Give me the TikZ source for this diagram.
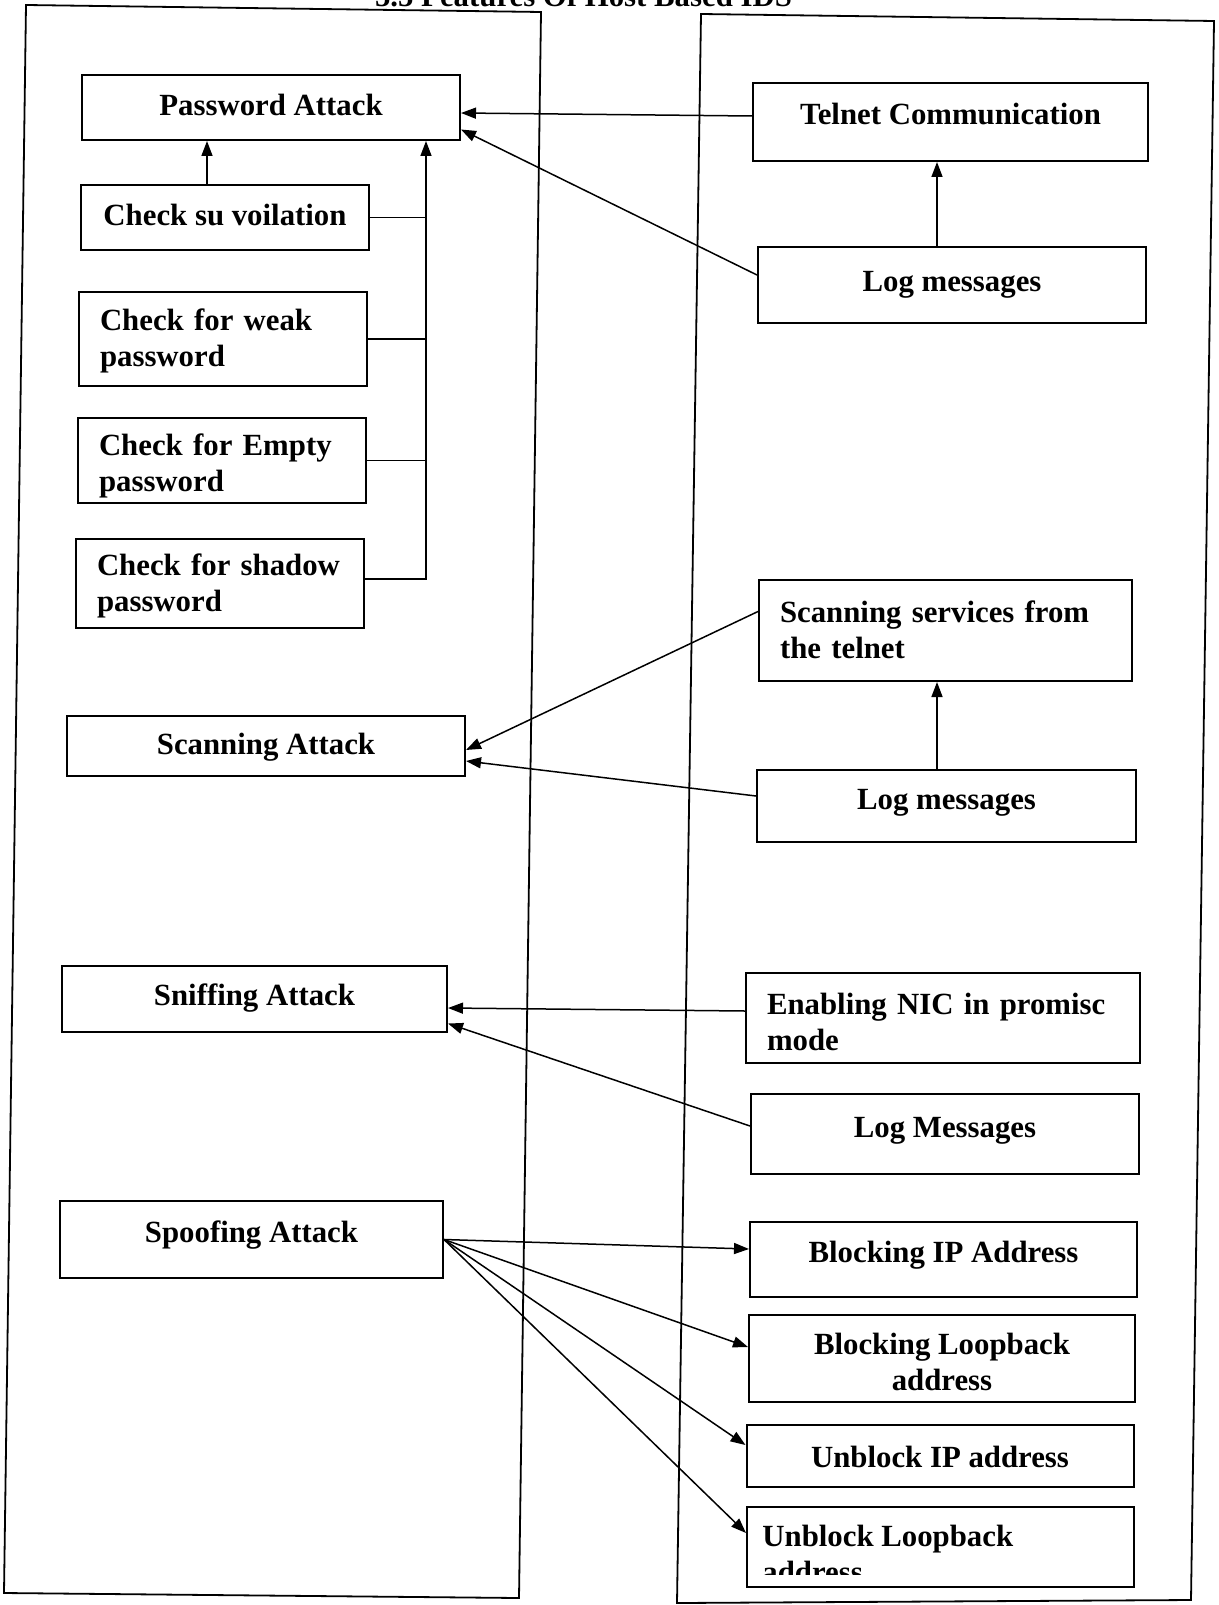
\documentclass[tikz,border=0pt]{standalone}
\usepackage{fontspec}
\setmainfont{Liberation Serif}
\usetikzlibrary{calc,arrows.meta}
\begin{document}
\begin{tikzpicture}[x=0.5pt,y=-0.5pt,
  txt/.style={font=\bfseries\fontsize{15.4}{18}\selectfont},
  box/.style={draw, line width=1pt, txt, inner sep=0pt, align=center, text height=11pt, text depth=3.5pt},
  lbox/.style={draw, line width=1pt, txt, inner ysep=0pt, inner xsep=10.5pt, align=left},
  cbox/.style={draw, line width=1pt, txt, inner sep=0pt, align=center},
  panel/.style={line width=0.9pt},
  arr/.style={line width=0.75pt, -{Triangle[length=7.5pt,width=5.5pt]}},
  link/.style={line width=0.75pt}]
\useasboundingbox (0,0) rectangle (1219,1605);

% heading
\node[txt, anchor=base] (title) at (583.5,6.5) {5.5 Features Of Host Based IDS};

% the two column frames
\draw[panel] (26,5) -- (541,12) -- (519,1598) -- (4,1593) -- cycle;
\draw[panel] (701,14) -- (1214,21) -- (1191,1600) -- (677,1603) -- cycle;

% attacks (left column)
\node[box, minimum width=189pt, minimum height=32.5pt, text depth=3pt] (pw) at (271,107.5) {Password Attack};
\node[box, minimum width=144pt, minimum height=32.5pt, text depth=3.2pt] (su) at (225,217.5) {Check su voilation};
\node[lbox, text width=123pt, minimum height=47pt, text height=12.5pt] (weak) at (223,339) {Check for weak\\password};
\node[lbox, text width=123pt, minimum height=42.5pt, text height=16pt] (empty) at (222,460.5) {Check for Empty\\password};
\node[lbox, text width=123pt, minimum height=44.5pt, text height=13.5pt] (shadow) at (220,583.5) {Check for shadow\\password};
\node[box, minimum width=199pt, minimum height=30pt, text depth=2.3pt] (scanA) at (266,746) {Scanning Attack};
\node[box, minimum width=192.5pt, minimum height=33pt, text depth=5pt] (sniffA) at (254.5,999) {Sniffing Attack};
\node[box, minimum width=191.5pt, minimum height=38.5pt, text depth=8.5pt] (spoofA) at (251.5,1239.5) {Spoofing Attack};

% sources and responses (right column)
\node[box, minimum width=197.5pt, minimum height=39pt, text depth=8pt] (telnet) at (950.5,122) {Telnet Communication};
\node[box, minimum width=194pt, minimum height=37.5pt, text depth=4pt] (log1) at (952,285) {Log messages};
\node[lbox, text width=165.5pt, minimum height=50.5pt, text height=9.8pt] (scansvc) at (945.5,630.5) {Scanning services from\\the telnet};
\node[box, minimum width=189.5pt, minimum height=36pt, text depth=7.3pt] (log2) at (946.5,806) {Log messages};
\node[lbox, text width=176pt, minimum height=45pt, text height=14.5pt] (nic) at (943,1018) {Enabling NIC in promisc\\mode};
\node[box, minimum width=194pt, minimum height=40pt, text depth=8pt] (log3) at (945,1134) {Log Messages};
\node[box, minimum width=193.5pt, minimum height=37.5pt, text depth=8.5pt] (blockip) at (943.5,1259.5) {Blocking IP Address};
\node[cbox, minimum width=193pt, minimum height=43.5pt, text height=32.5pt] (blocklb) at (942,1358.5) {Blocking Loopback\\address};
\node[box, minimum width=193.5pt, minimum height=31pt, text depth=0pt] (unblockip) at (940,1456) {Unblock IP address};
\node[draw, line width=1pt, minimum width=193.5pt, minimum height=40pt, inner sep=0pt] (unblocklb) at (940.5,1547) {};
\begin{scope}
  \clip (700,1500) rectangle (1180,1574);
  \node[txt, anchor=north west, inner sep=0pt, align=left] (unblocklbtext) at (762,1525) {Unblock Loopback\\address};
\end{scope}

% password checks feed a common bus
\coordinate (busx) at (426,0);
\draw[arr] ($(su.north)+(-18,0)$) -- ($(pw.south)+(-64,0)$);
\draw[arr] ($(shadow.east)+(0,-4.5)$) -| (pw.south -| busx);
\draw[link] (su.east) -- (su.east -| busx);
\draw[link] (weak.east) -- (weak.east -| busx);
\draw[link] (empty.east) -- (empty.east -| busx);

% password attack sources
\draw[arr] ($(telnet.west)+(0,-6)$) -- ($(pw.east)+(0,5.5)$);
\draw[arr] ($(log1.west)+(0,-10)$) -- ($(pw.east)+(0,22)$);
\draw[arr] ($(log1.north)+(-15,0)$) -- ($(telnet.south)+(-13.5,0)$);

% scanning
\draw[arr] ($(scansvc.west)+(0,-19)$) -- ($(scanA.east)+(0,4)$);
\draw[arr] ($(log2.west)+(0,-10)$) -- ($(scanA.east)+(0,15)$);
\draw[arr] ($(log2.north)+(-9.5,0)$) -- ($(scansvc.south)+(-8.5,0)$);

% sniffing
\draw[arr] ($(nic.west)+(0,-7)$) -- ($(sniffA.east)+(0,9)$);
\draw[arr] ($(log3.west)+(0,-8)$) -- ($(sniffA.east)+(0,24.5)$);

% spoofing responses
\draw[arr] (spoofA.east) -- ($(blockip.west)+(0,-10.5)$);
\draw[arr] (spoofA.east) -- ($(blocklb.west)+(0,-11.5)$);
\draw[arr] (spoofA.east) -- ($(unblockip.west)+(0,-11)$);
\draw[arr] (spoofA.east) -- ($(unblocklb.west)+(0,-14)$);
\end{tikzpicture}
\end{document}
